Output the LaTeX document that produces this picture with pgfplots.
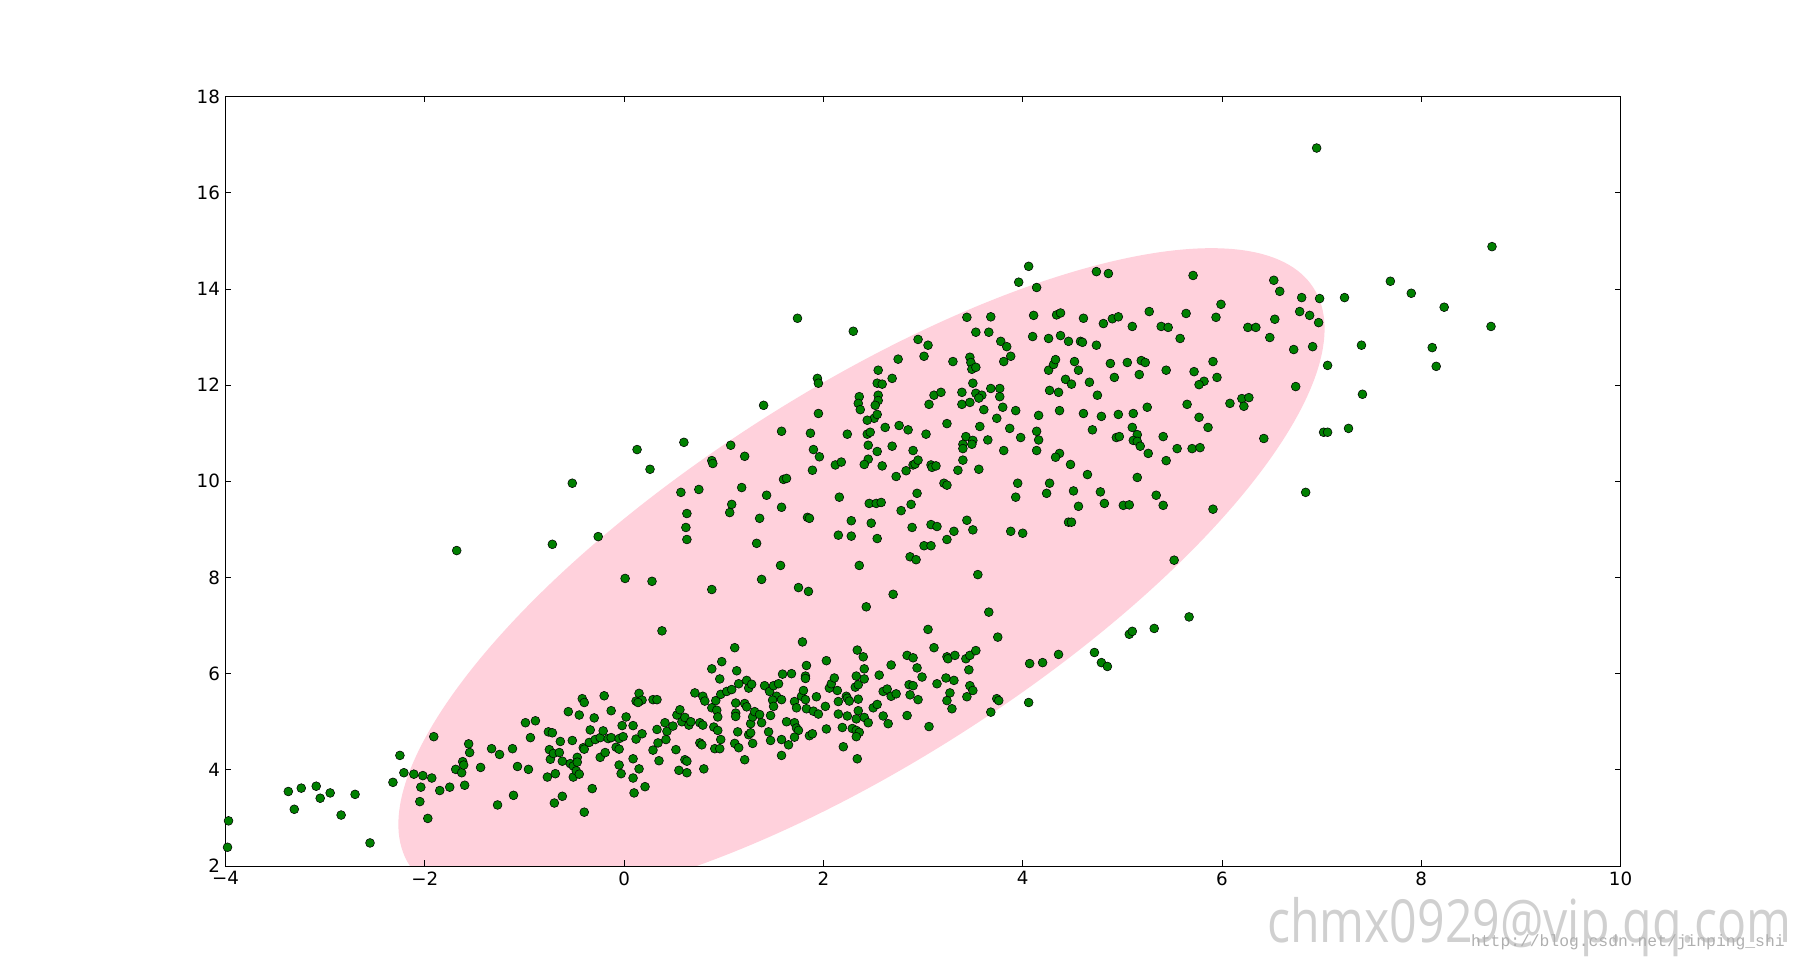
\documentclass[border=0pt]{standalone}
\usepackage{pgfplots}
\pgfplotsset{compat=1.18}
\usepackage{fontspec}
\setmainfont{DejaVu Sans}
\newfontfamily\wmfont{Open Sans}
\newfontfamily\urlfont{Liberation Mono}
\definecolor{ptgreen}{RGB}{0,128,0}
\definecolor{ellpink}{RGB}{255,209,220}
\definecolor{wmgray}{RGB}{208,208,208}
\definecolor{urlgray}{RGB}{175,175,175}

\pgfplotstableread{
x y
-3.97 2.94
-3.98 2.39
-3.37 3.55
-3.31 3.18
-3.24 3.62
-3.09 3.66
-3.05 3.41
-2.95 3.52
-2.84 3.06
-2.70 3.49
-2.55 2.48
-2.32 3.74
-2.25 4.30
-2.21 3.94
-2.11 3.91
-2.02 3.88
-2.04 3.64
-2.05 3.34
-1.97 2.99
-1.93 3.83
-1.91 4.69
-1.85 3.57
-1.75 3.64
-1.69 4.01
-1.63 3.94
-1.62 4.17
-1.61 4.10
-1.60 3.68
-1.56 4.54
-1.55 4.36
-1.44 4.05
-1.33 4.44
-1.27 3.27
-1.25 4.32
-1.12 4.44
-1.11 3.47
-1.07 4.07
-0.99 4.98
-0.96 4.01
-0.94 4.67
-0.89 5.02
-0.77 3.85
-0.76 4.79
-0.75 4.42
-0.74 4.22
-0.72 4.77
-0.71 4.34
-0.70 3.31
-0.69 3.92
-0.65 4.36
-0.64 4.59
-0.62 3.45
-0.62 4.18
-0.56 5.21
-0.54 4.13
-0.52 4.61
-0.51 4.08
-0.51 3.85
-0.48 3.98
-0.47 4.26
-0.47 4.16
-0.45 5.14
-0.45 3.91
-0.42 5.48
-0.40 3.12
-0.41 4.46
-0.40 5.40
-0.40 4.43
-0.35 4.57
-0.34 4.83
-0.32 3.61
-0.30 5.08
-0.29 4.63
-0.24 4.26
-0.24 4.67
-0.21 4.81
-0.20 5.54
-0.19 4.36
-0.16 4.65
-0.13 5.23
-0.13 4.67
-0.08 4.47
-0.05 4.10
-0.05 4.43
-0.05 4.65
-0.03 3.92
-0.02 4.92
-0.01 4.69
0.02 5.10
0.38 6.89
0.12 5.43
0.15 5.59
0.18 5.45
0.14 5.40
0.09 4.92
0.12 4.64
0.18 4.75
0.09 4.23
0.15 4.02
0.09 3.83
0.10 3.52
0.21 3.65
0.29 5.46
0.33 5.46
0.29 4.41
0.34 4.56
0.33 4.84
0.35 4.19
0.41 4.98
0.43 4.80
0.42 4.63
0.49 4.91
0.52 4.42
0.53 5.14
0.56 5.25
0.58 5.00
0.61 5.09
0.61 4.21
0.63 4.18
0.55 3.99
0.63 3.94
0.65 4.93
0.67 5.00
0.71 5.60
0.76 4.98
0.79 5.53
0.81 5.43
0.79 4.93
0.76 4.56
0.78 4.52
0.80 4.02
0.88 6.10
0.88 5.29
0.92 5.44
0.93 5.24
0.94 5.10
0.90 4.89
0.94 4.82
0.97 4.63
0.91 4.44
0.96 4.44
0.96 5.89
0.98 6.25
0.97 5.57
1.03 5.63
1.08 5.67
1.11 6.54
1.13 6.06
1.15 5.79
1.12 5.39
1.12 5.18
1.12 5.11
1.14 4.79
1.11 4.55
1.15 4.46
1.21 4.21
1.21 5.38
1.23 5.31
1.23 5.86
1.25 5.70
1.28 5.78
1.25 4.73
1.27 4.77
1.29 4.55
1.27 4.96
1.29 5.10
1.31 5.21
1.36 5.15
1.38 4.98
1.41 5.75
1.46 5.63
1.50 5.75
1.55 5.79
1.53 5.53
1.49 5.45
1.50 5.32
1.58 5.46
1.47 5.13
1.45 4.79
1.47 4.61
1.58 4.63
1.58 4.30
1.59 5.99
1.68 6.00
1.63 5.00
1.71 4.98
1.73 4.87
1.75 4.82
1.71 4.68
1.65 4.52
1.71 5.42
1.73 5.29
1.78 5.53
1.80 5.65
1.82 5.46
1.83 5.27
1.79 6.66
1.83 6.17
1.82 5.95
1.82 5.90
1.86 4.71
1.89 4.75
1.90 5.22
1.93 5.52
1.95 5.16
2.02 5.32
2.03 6.27
2.03 4.85
2.06 5.70
2.08 5.79
2.11 5.91
2.14 5.65
2.15 5.42
2.15 5.16
2.19 4.88
2.20 4.48
2.23 5.53
2.24 5.49
2.26 5.43
2.24 5.12
2.29 4.86
2.32 5.72
2.34 6.49
2.33 5.95
2.35 5.77
2.35 5.47
2.35 5.23
2.33 5.06
2.33 4.82
2.36 4.78
2.33 4.69
2.34 4.23
2.40 6.35
2.41 6.10
2.41 5.89
2.41 5.09
2.45 4.98
2.43 7.39
2.50 5.29
2.54 5.36
2.56 5.97
2.60 5.63
2.60 5.12
2.64 5.68
2.65 4.96
2.68 6.18
2.68 5.53
2.73 5.58
2.84 6.38
2.90 6.33
2.84 5.13
2.86 5.77
2.90 5.75
2.87 5.56
2.94 6.12
2.95 5.46
2.99 5.93
3.05 6.92
3.06 4.90
3.11 6.54
3.14 5.79
3.23 5.91
3.24 6.35
3.25 6.31
3.27 5.60
3.24 5.44
3.29 5.27
3.31 5.86
3.32 6.38
3.43 6.31
3.47 6.38
3.53 6.48
3.46 6.08
3.47 5.75
3.50 5.65
3.44 5.52
3.66 7.28
3.75 6.76
3.74 5.48
3.76 5.44
3.68 5.20
1.74 13.39
1.94 12.14
1.95 12.04
1.40 11.58
1.95 11.41
1.58 11.04
1.87 11.00
1.90 10.66
1.96 10.51
0.13 10.66
0.60 10.81
1.07 10.75
1.21 10.52
0.26 10.25
0.88 10.43
0.89 10.37
-0.52 9.96
0.57 9.77
0.75 9.83
1.18 9.87
1.60 10.04
1.63 10.06
1.89 10.23
1.43 9.71
1.08 9.52
1.06 9.35
1.58 9.46
0.63 9.33
0.62 9.04
0.63 8.79
1.36 9.23
1.84 9.25
1.86 9.23
1.33 8.71
-1.68 8.56
-0.72 8.69
-0.26 8.85
1.57 8.25
0.01 7.98
0.28 7.92
0.88 7.75
1.38 7.96
1.75 7.79
1.85 7.71
4.06 14.47
3.96 14.14
4.14 14.03
4.74 14.36
4.86 14.32
2.30 13.12
3.44 13.41
3.68 13.42
4.11 13.45
4.34 13.46
4.38 13.50
4.61 13.39
4.81 13.28
4.90 13.38
4.96 13.42
3.53 13.10
3.66 13.10
4.10 13.01
4.26 12.97
4.38 13.03
4.46 12.91
4.58 12.91
4.60 12.89
4.74 12.83
2.95 12.95
3.05 12.83
3.01 12.60
2.75 12.54
3.78 12.91
3.84 12.80
3.88 12.60
3.81 12.49
3.30 12.49
3.47 12.58
3.48 12.47
3.49 12.33
3.53 12.37
2.55 12.31
2.69 12.14
2.54 12.04
2.59 12.02
2.36 11.76
2.35 11.62
2.37 11.49
2.55 11.79
2.55 11.68
2.52 11.58
2.51 11.31
2.54 11.39
2.44 11.27
2.24 10.98
2.44 10.98
2.47 11.02
2.62 11.12
2.76 11.16
2.85 11.07
3.03 10.98
3.06 11.60
3.11 11.79
3.18 11.85
3.24 11.20
3.39 11.85
3.39 11.60
3.47 11.64
3.50 12.04
3.53 11.83
3.59 11.79
3.56 11.73
3.68 11.93
3.77 11.93
3.77 11.76
3.80 11.54
3.61 11.49
3.93 11.47
3.74 11.31
3.57 11.14
3.87 11.10
3.98 10.91
3.43 10.93
3.50 10.85
3.40 10.77
3.40 10.68
3.49 10.77
3.65 10.86
3.81 10.64
4.16 11.37
4.14 11.04
4.16 10.86
4.14 10.64
4.37 11.47
4.27 11.89
4.36 11.85
4.26 12.31
4.31 12.43
4.33 12.53
4.43 12.12
4.49 12.02
4.52 12.49
4.56 12.31
4.67 12.06
4.75 11.79
4.88 12.45
4.92 12.16
4.61 11.41
4.79 11.35
4.70 11.07
4.96 11.39
4.94 10.91
4.97 10.93
4.37 10.58
4.33 10.50
4.48 10.35
4.65 10.14
4.27 9.96
4.24 9.75
4.51 9.80
4.56 9.48
4.78 9.78
4.82 9.54
4.46 9.15
4.49 9.15
3.95 9.96
3.93 9.67
3.88 8.96
4.00 8.92
3.35 10.23
3.56 10.25
3.21 9.96
3.24 9.92
3.44 9.19
3.50 8.99
3.31 8.96
3.24 8.79
3.08 9.10
3.14 9.06
3.01 8.66
3.08 8.66
3.55 8.06
2.89 9.04
2.88 9.52
2.94 9.75
2.78 9.39
2.87 8.43
2.93 8.37
2.73 10.10
2.83 10.22
2.90 10.34
2.92 10.36
2.95 10.44
2.90 10.64
3.08 10.34
3.09 10.29
3.13 10.32
3.40 10.44
2.59 10.32
2.45 10.46
2.41 10.35
2.54 10.62
2.45 10.75
2.69 10.73
2.12 10.34
2.18 10.40
2.16 9.67
2.28 9.18
2.46 9.54
2.53 9.54
2.58 9.56
2.48 9.13
2.15 8.88
2.28 8.86
2.54 8.81
2.36 8.25
2.70 7.65
5.71 14.28
6.52 14.18
6.58 13.95
6.80 13.82
6.98 13.80
7.23 13.82
7.69 14.16
5.27 13.53
5.64 13.49
5.99 13.68
5.94 13.41
5.10 13.22
5.39 13.22
5.46 13.20
5.58 12.97
6.26 13.20
6.34 13.20
6.53 13.37
6.48 12.99
6.78 13.53
6.88 13.45
6.97 13.30
6.72 12.74
6.91 12.80
7.40 12.83
7.06 12.41
7.41 11.81
6.74 11.97
5.05 12.47
5.19 12.51
5.23 12.47
5.17 12.22
5.44 12.31
5.72 12.28
5.91 12.49
5.95 12.16
5.82 12.08
5.77 12.01
5.65 11.60
6.08 11.62
6.20 11.72
6.27 11.74
6.22 11.56
5.11 11.41
5.25 11.54
5.77 11.33
5.86 11.12
5.10 11.12
5.15 10.97
5.11 10.85
5.15 10.83
5.18 10.73
5.41 10.93
5.26 10.58
5.55 10.68
5.70 10.68
5.78 10.70
5.44 10.43
6.42 10.89
7.02 11.02
7.06 11.02
7.27 11.10
5.15 10.08
5.34 9.71
5.41 9.50
5.01 9.50
5.07 9.51
5.91 9.42
6.84 9.77
5.52 8.36
5.67 7.18
8.71 14.88
7.90 13.91
8.23 13.62
8.70 13.22
8.11 12.78
8.15 12.39
6.95 16.93
4.07 6.21
4.20 6.23
4.36 6.40
4.06 5.40
4.72 6.44
4.79 6.23
4.85 6.15
5.07 6.82
5.10 6.88
5.32 6.94
}\pts

\begin{document}
\begin{tikzpicture}
\useasboundingbox (-163.0pt,-70.1pt) rectangle (1137.9pt,625.9pt);
% confidence ellipse, drawn behind the axis (axis box: 1008.2pt x 556.1pt at the origin)
\begin{scope}
\clip (0pt,0pt) rectangle (1008.2pt,556.1pt);
\fill[ellpink, shift={(459.6pt,209.2pt)}, x={(326.7pt,208.6pt)}, y={(72.45pt,-113.1pt)}] (0,0) circle[radius=1];
\end{scope}
\begin{axis}[
  at={(0pt,0pt)}, anchor=south west,
  width=1008.2pt, height=556.1pt, scale only axis,
  xmin=-4, xmax=10, ymin=2, ymax=18,
  xtick={-4,-2,0,2,4,6,8,10},
  xticklabels={−4,−2,0,2,4,6,8,10},
  ytick={2,4,6,8,10,12,14,16,18},
  yticklabels={2,4,6,8,10,12,14,16,18},
  tick align=inside,
  major tick length=4.1pt,
  tick style={black, line width=0.6pt},
  axis line style={black, line width=0.75pt},
  ticklabel style={font=\fontsize{13.2}{15}\selectfont, text=black},
  /pgf/number format/assume math mode=true,
  xticklabel style={yshift=-0.5pt},
  yticklabel style={xshift=-0.5pt},
]
\addplot[only marks, mark=*, mark size=3.2pt,
  mark options={fill=ptgreen, draw=black, line width=0.4pt}]
  table[x=x, y=y] {\pts};
\end{axis}
\node[anchor=base east, inner sep=0pt, text=wmgray]
  at (1132.1pt,-55.6pt) {\scalebox{1}[1.23]{\wmfont\fontsize{34.9}{40}\selectfont chmx0929@vip.qq.com}};
\node[anchor=base east, inner sep=0pt, text=urlgray]
  at (1127.0pt,-57.8pt) {\urlfont\fontsize{11.8}{13}\selectfont http://blog.csdn.net/jinping\_shi};
\end{tikzpicture}
\end{document}
